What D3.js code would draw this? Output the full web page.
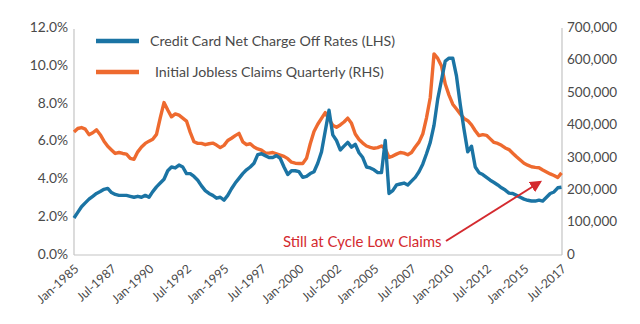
<!DOCTYPE html>
<html>
<head>
<meta charset="utf-8">
<script src="https://cdn.jsdelivr.net/npm/d3@7"></script>
<style>
  html, body { margin: 0; padding: 0; background: #fff; }
  svg { display: block; }
  text { font-family: Lato, "Open Sans", sans-serif; }
</style>
</head>
<body>
<svg id="chart" width="640" height="324"></svg>
<script>
// Quarterly data, Q1 1985 .. Q3 2017 (131 quarters)
const tickLabels = ["Jan-1985","Jul-1987","Jan-1990","Jul-1992","Jan-1995","Jul-1997","Jan-2000",
  "Jul-2002","Jan-2005","Jul-2007","Jan-2010","Jul-2012","Jan-2015","Jul-2017"];

// Credit card net charge-off rate, % (LHS)
const chargeOffRates = [
  1.9,2.2,2.5,2.7,2.9,3.05,3.2,3.3,3.42,3.47,
  3.25,3.15,3.1,3.1,3.1,3.05,3.0,3.05,3.0,3.1,
  3.0,3.3,3.55,3.75,3.95,4.4,4.6,4.55,4.7,4.6,
  4.25,4.25,4.1,3.9,3.6,3.35,3.2,3.1,2.95,3.0,
  2.85,3.1,3.45,3.75,4.0,4.25,4.45,4.6,4.8,5.25,
  5.3,5.2,5.1,5.1,5.2,5.05,4.6,4.2,4.4,4.4,
  4.35,4.05,4.1,4.25,4.35,4.8,5.4,6.5,7.6,6.3,
  6.0,5.5,5.7,5.9,5.65,5.8,5.35,5.1,4.6,4.55,
  4.45,4.3,4.3,6.0,3.2,3.35,3.65,3.7,3.75,3.65,
  3.85,4.05,4.35,4.75,5.3,5.9,6.8,8.2,9.2,10.2,
  10.35,10.35,9.4,7.9,6.6,5.4,5.7,4.6,4.3,4.2,
  4.05,3.9,3.78,3.65,3.5,3.38,3.22,3.2,3.1,3.0,
  2.9,2.84,2.8,2.8,2.85,2.8,3.0,3.2,3.28,3.5,
  3.53
];

// Initial jobless claims, quarterly (RHS)
const joblessClaims = [
  376000,387000,390000,385000,368000,374000,383000,368000,348000,332000,
  321000,310000,313000,310000,308000,295000,292000,315000,330000,341000,
  348000,354000,369000,420000,467000,444000,423000,432000,428000,419000,
  410000,375000,346000,341000,341000,337000,340000,342000,336000,328000,
  335000,350000,357000,365000,372000,346000,337000,340000,330000,324000,
  320000,312000,311000,313000,309000,305000,301000,294000,283000,280000,
  279000,279000,295000,340000,378000,400000,418000,436000,415000,397000,
  391000,398000,407000,419000,403000,370000,353000,342000,333000,329000,
  326000,328000,333000,325000,298000,302000,308000,313000,311000,306000,
  313000,330000,345000,370000,420000,482000,617000,603000,580000,524000,
  490000,462000,447000,432000,418000,411000,398000,380000,365000,368000,
  366000,355000,344000,341000,335000,327000,322000,311000,300000,290000,
  280000,274000,269000,267000,266000,259000,253000,247000,242000,236000,
  250000
];

const leftTicks = [0, 2, 4, 6, 8, 10, 12];
const rightTicks = [0, 100000, 200000, 300000, 400000, 500000, 600000, 700000];
const seriesNames = ["Credit Card Net Charge Off Rates (LHS)", "Initial Jobless Claims Quarterly (RHS)"];
const annotationText = "Still at Cycle Low Claims";

const blue = "#1b74a4", orange = "#ee6a2f", red = "#d42a2f", axisGrey = "#c4c4c4", textGrey = "#4a4a4a";

const svg = d3.select("#chart");
const pLeft = 74, pRight = 562, pTop = 27, pBottom = 255;

const x = d3.scaleLinear().domain([0, chargeOffRates.length - 1]).range([pLeft, pRight - 0.5]);
const yL = d3.scaleLinear().domain([0, 12]).range([pBottom - 1, pTop]);
const yR = d3.scaleLinear().domain([0, 700000]).range([pBottom - 1, pTop]);

// frame lines
svg.append("line").attr("x1", pLeft).attr("x2", pLeft).attr("y1", pTop + 2).attr("y2", pBottom)
  .attr("stroke", axisGrey).attr("stroke-width", 1.2);
svg.append("line").attr("x1", pRight).attr("x2", pRight).attr("y1", pTop + 1).attr("y2", pBottom)
  .attr("stroke", axisGrey).attr("stroke-width", 1.2);
svg.append("line").attr("x1", pLeft).attr("x2", pRight).attr("y1", pBottom).attr("y2", pBottom)
  .attr("stroke", axisGrey).attr("stroke-width", 1.2);

// left axis
const gL = svg.append("g").attr("transform", `translate(${pLeft},0)`)
  .call(d3.axisLeft(yL).tickValues(leftTicks).tickFormat(d => d.toFixed(1) + "%").tickSize(0).tickPadding(6));
gL.select(".domain").remove();
gL.selectAll("text").attr("font-size", 13.8).attr("fill", textGrey).attr("font-family", "Lato, sans-serif");

// right axis
const gR = svg.append("g").attr("transform", `translate(${pRight},0)`)
  .call(d3.axisRight(yR).tickValues(rightTicks).tickFormat(d3.format(",")).tickSize(0).tickPadding(5));
gR.select(".domain").remove();
gR.selectAll("text").attr("font-size", 13.5).attr("fill", textGrey).attr("font-family", "Lato, sans-serif");

// bottom axis
const gB = svg.append("g").attr("transform", `translate(0,${pBottom})`)
  .call(d3.axisBottom(x).tickValues(d3.range(0, chargeOffRates.length, 10))
    .tickFormat((d, i) => tickLabels[i]).tickSize(0).tickPadding(0));
gB.select(".domain").remove();
gB.selectAll("text")
  .attr("font-size", 12.3).attr("fill", textGrey).attr("font-family", "Lato, sans-serif")
  .attr("text-anchor", "end")
  .attr("dy", 0)
  .attr("transform", "translate(5,15) rotate(-42)");

// lines
const lineL = d3.line().x((d, i) => x(i)).y(d => yL(d)).curve(d3.curveLinear);
const lineR = d3.line().x((d, i) => x(i)).y(d => yR(d)).curve(d3.curveLinear);

svg.append("path").datum(joblessClaims).attr("d", lineR)
  .attr("fill", "none").attr("stroke", orange).attr("stroke-width", 3.4).attr("stroke-linejoin", "round");
svg.append("path").datum(chargeOffRates).attr("d", lineL)
  .attr("fill", "none").attr("stroke", blue).attr("stroke-width", 3.4).attr("stroke-linejoin", "round");

// legend
const legend = svg.append("g");
[blue, orange].forEach((c, i) => {
  const ly = 41 + i * 31;
  legend.append("line").attr("x1", 96).attr("x2", 139).attr("y1", ly).attr("y2", ly)
    .attr("stroke", c).attr("stroke-width", 4.5);
  legend.append("text").attr("x", i === 0 ? 150 : 155).attr("y", ly + 5)
    .attr("font-size", 14.2).attr("fill", textGrey).text(seriesNames[i]);
});

// annotation
const defs = svg.append("defs");
defs.append("marker").attr("id", "arrow").attr("viewBox", "0 0 10 10")
  .attr("refX", 8).attr("refY", 5).attr("markerWidth", 6).attr("markerHeight", 6)
  .attr("orient", "auto").attr("markerUnits", "strokeWidth")
  .append("path").attr("d", "M0,0 L10,5 L0,10 z").attr("fill", red);

svg.append("text").attr("x", 283).attr("y", 247).attr("font-size", 15).attr("fill", red)
  .text(annotationText);
svg.append("line").attr("x1", 446).attr("y1", 241).attr("x2", 540).attr("y2", 182)
  .attr("stroke", red).attr("stroke-width", 2).attr("marker-end", "url(#arrow)");
</script>
</body>
</html>
